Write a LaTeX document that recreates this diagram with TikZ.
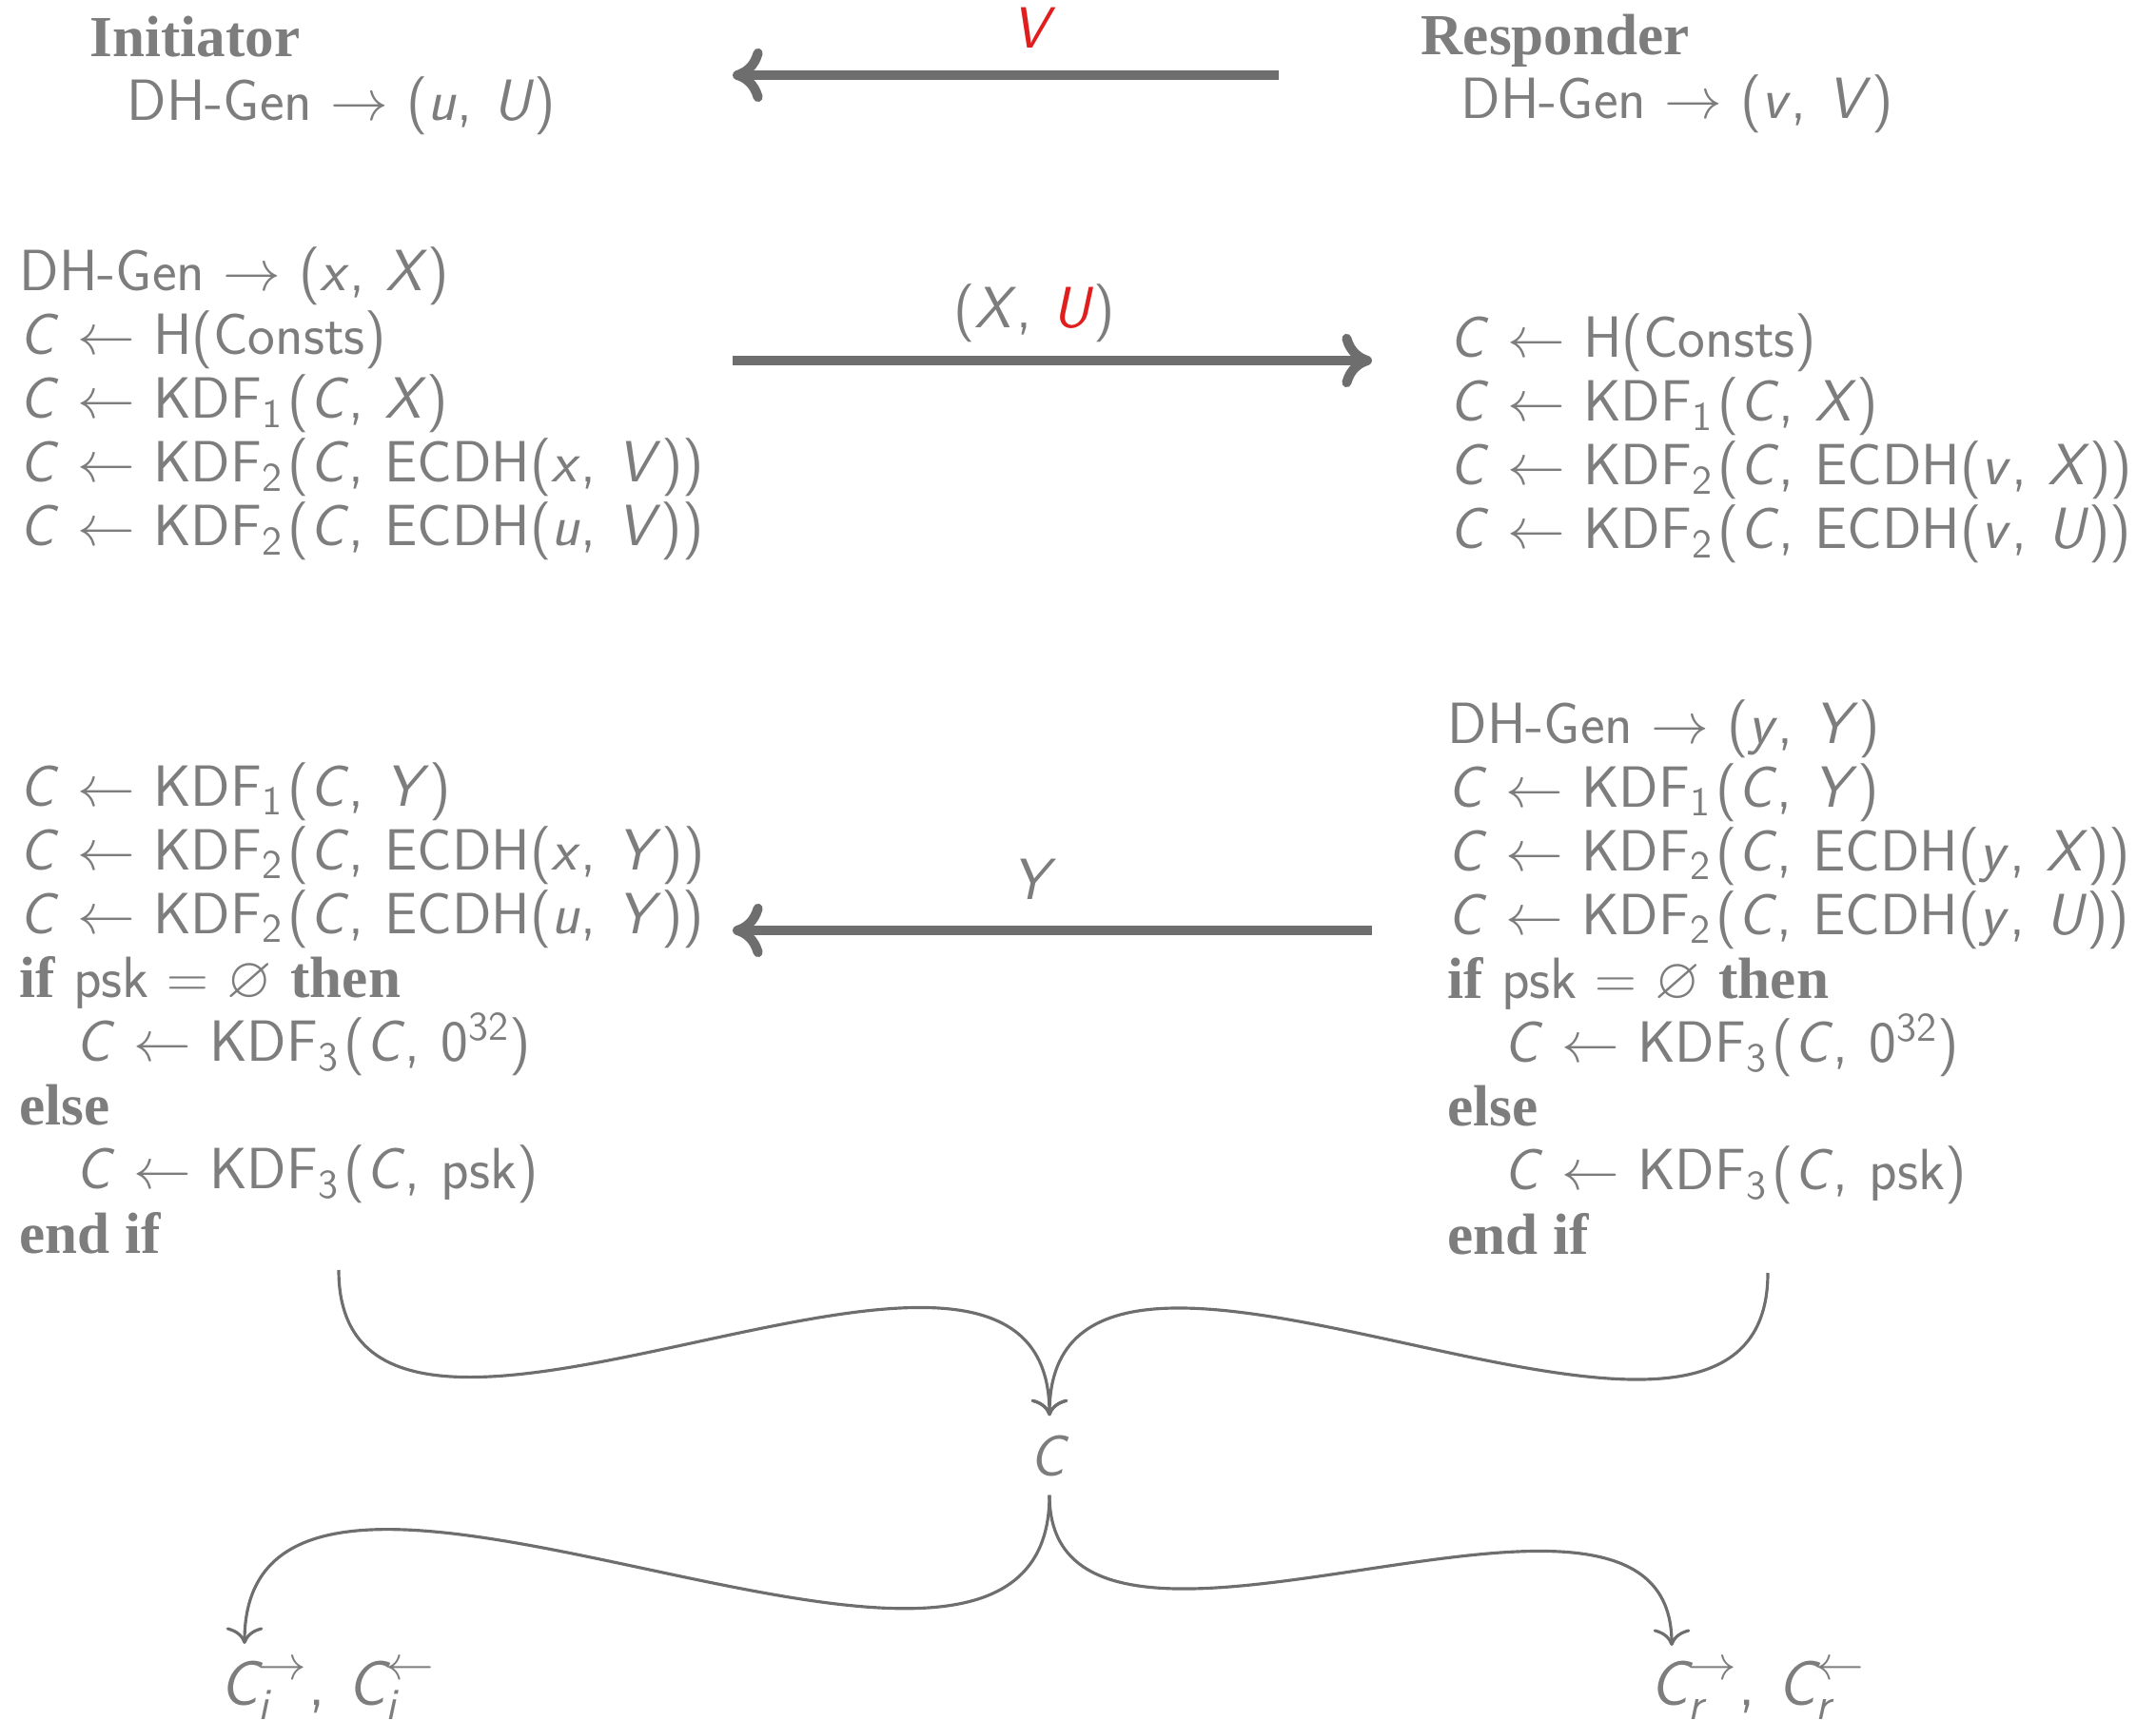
\documentclass[tikz,border=0pt]{standalone}
\usepackage{fontspec}
\usepackage{amsmath,amssymb}
\newfontfamily\kwfont{Liberation Serif}
\usetikzlibrary{arrows.meta}
\definecolor{txt}{RGB}{125,125,125}
\definecolor{ln}{RGB}{110,110,110}
\definecolor{hl}{RGB}{225,30,30}
\newcommand\vi[1]{\textit{#1}}
\newcommand\kw[1]{{\kwfont\bfseries #1}}
\newcommand\ra{\ $\rightarrow$\ }
\newcommand\la{\ $\leftarrow$\ }
\newcommand\cm{,\hspace{0.36em}}
\newcommand\sub[1]{\textsubscript{#1}\kern0.08em}
\begin{document}
\begin{tikzpicture}[
  blk/.style={anchor=base west, inner sep=0pt, align=left, text=txt,
    font=\sffamily\fontsize{17.4}{19.07}\selectfont},
  lbl/.style={anchor=base, inner sep=0pt, text=txt,
    font=\sffamily\fontsize{17.4}{19.07}\selectfont},
  outl/.style={anchor=base west, inner sep=0pt, text=txt,
    font=\sffamily\fontsize{19}{21}\selectfont},
  msg/.style={draw=ln, line width=2.85pt, -{To[length=9pt,width=16pt]}},
  conn/.style={draw=ln, line width=0.9pt, -{To[length=5pt,width=11pt]}}
]
\useasboundingbox (0,0) rectangle (22.66,-18.08);

% headers (anchor = baseline of last line)
\node[blk] (ini) at (0.94,-1.27) {\kw{Initiator}\\\hspace*{0.39cm}DH-Gen\ra(\vi{u}\cm\vi{U})};
\node[blk] (res) at (14.93,-1.25) {\kw{Responder}\\\hspace*{0.42cm}DH-Gen\ra(\vi{v}\cm\vi{V})};

% first blocks
\node[blk] (L1) at (0.20,-5.74) {DH-Gen\ra(\vi{x}\cm\vi{X})\\
\vi{C}\la H(Consts)\\
\vi{C}\la KDF\sub{1}(\vi{C}\cm\vi{X})\\
\vi{C}\la KDF\sub{2}(\vi{C}\cm ECDH(\vi{x}\cm\vi{V}))\\
\vi{C}\la KDF\sub{2}(\vi{C}\cm ECDH(\vi{u}\cm\vi{V}))};

\node[blk] (R1) at (15.23,-5.77) {\vi{C}\la H(Consts)\\
\vi{C}\la KDF\sub{1}(\vi{C}\cm\vi{X})\\
\vi{C}\la KDF\sub{2}(\vi{C}\cm ECDH(\vi{v}\cm\vi{X}))\\
\vi{C}\la KDF\sub{2}(\vi{C}\cm ECDH(\vi{v}\cm\vi{U}))};

% second blocks
\node[blk] (L2) at (0.20,-13.17) {\vi{C}\la KDF\sub{1}(\vi{C}\cm\vi{Y})\\
\vi{C}\la KDF\sub{2}(\vi{C}\cm ECDH(\vi{x}\cm\vi{Y}))\\
\vi{C}\la KDF\sub{2}(\vi{C}\cm ECDH(\vi{u}\cm\vi{Y}))\\
\kw{if} psk\ $=$\ $\varnothing$\ \kw{then}\\
\hspace*{0.59cm}\vi{C}\la KDF\sub{3}(\vi{C}\cm 0\textsuperscript{32})\\
\kw{else}\\
\hspace*{0.59cm}\vi{C}\la KDF\sub{3}(\vi{C}\cm psk)\\
\kw{end if}};

\node[blk] (R2) at (15.21,-13.18) {DH-Gen\ra(\vi{y}\cm\vi{Y})\\
\vi{C}\la KDF\sub{1}(\vi{C}\cm\vi{Y})\\
\vi{C}\la KDF\sub{2}(\vi{C}\cm ECDH(\vi{y}\cm\vi{X}))\\
\vi{C}\la KDF\sub{2}(\vi{C}\cm ECDH(\vi{y}\cm\vi{U}))\\
\kw{if} psk\ $=$\ $\varnothing$\ \kw{then}\\
\hspace*{0.59cm}\vi{C}\la KDF\sub{3}(\vi{C}\cm 0\textsuperscript{32})\\
\kw{else}\\
\hspace*{0.59cm}\vi{C}\la KDF\sub{3}(\vi{C}\cm psk)\\
\kw{end if}};

% message arrows
\coordinate (a1r) at (13.44,-0.79);
\coordinate (a1l) at (7.70,-0.79);
\coordinate (a2l) at (7.70,-3.79);
\coordinate (a2r) at (14.42,-3.79);
\coordinate (a3r) at (14.42,-9.78);
\coordinate (a3l) at (7.70,-9.78);
\draw[msg] (a1r) -- (a1l);
\draw[msg] (a2l) -- (a2r);
\draw[msg] (a3r) -- (a3l);
\node[lbl] (lV) at (10.87,-0.51) {\textcolor{hl}{\vi{V}}};
\node[lbl] (lXU) at (10.87,-3.45) {(\vi{X}\cm\textcolor{hl}{\vi{U}})};
\node[lbl] (lY) at (10.87,-9.46) {\vi{Y}};

% combining
\node[lbl, anchor=center, minimum height=0.82cm] (Cn) at (11.03,-15.30) {\vi{C}};
\coordinate (lsrc) at (3.56,-13.35);
\coordinate (rsrc) at (18.58,-13.38);
\draw[conn] (lsrc) .. controls +(0,-3.13) and +(0,3.13) .. (Cn.north);
\draw[conn] (rsrc) .. controls +(0,-3.13) and +(0,3.13) .. (Cn.north);

% outputs
\node[outl] (Ci) at (2.31,-17.92) {$\vi{C}_{\vi{i}}^{\rightarrow}$\cm$\vi{C}_{\vi{i}}^{\leftarrow}$};
\node[outl] (Cr) at (17.34,-17.92) {$\vi{C}_{\vi{r}}^{\rightarrow}$\cm$\vi{C}_{\vi{r}}^{\leftarrow}$};
\coordinate (ciTip) at (2.57,-17.28);
\coordinate (crTip) at (17.57,-17.30);
\draw[conn] (Cn.south) .. controls +(0,-3.35) and +(0,3.35) .. (ciTip);
\draw[conn] (Cn.south) .. controls +(0,-2.55) and +(0,2.55) .. (crTip);
\end{tikzpicture}
\end{document}
